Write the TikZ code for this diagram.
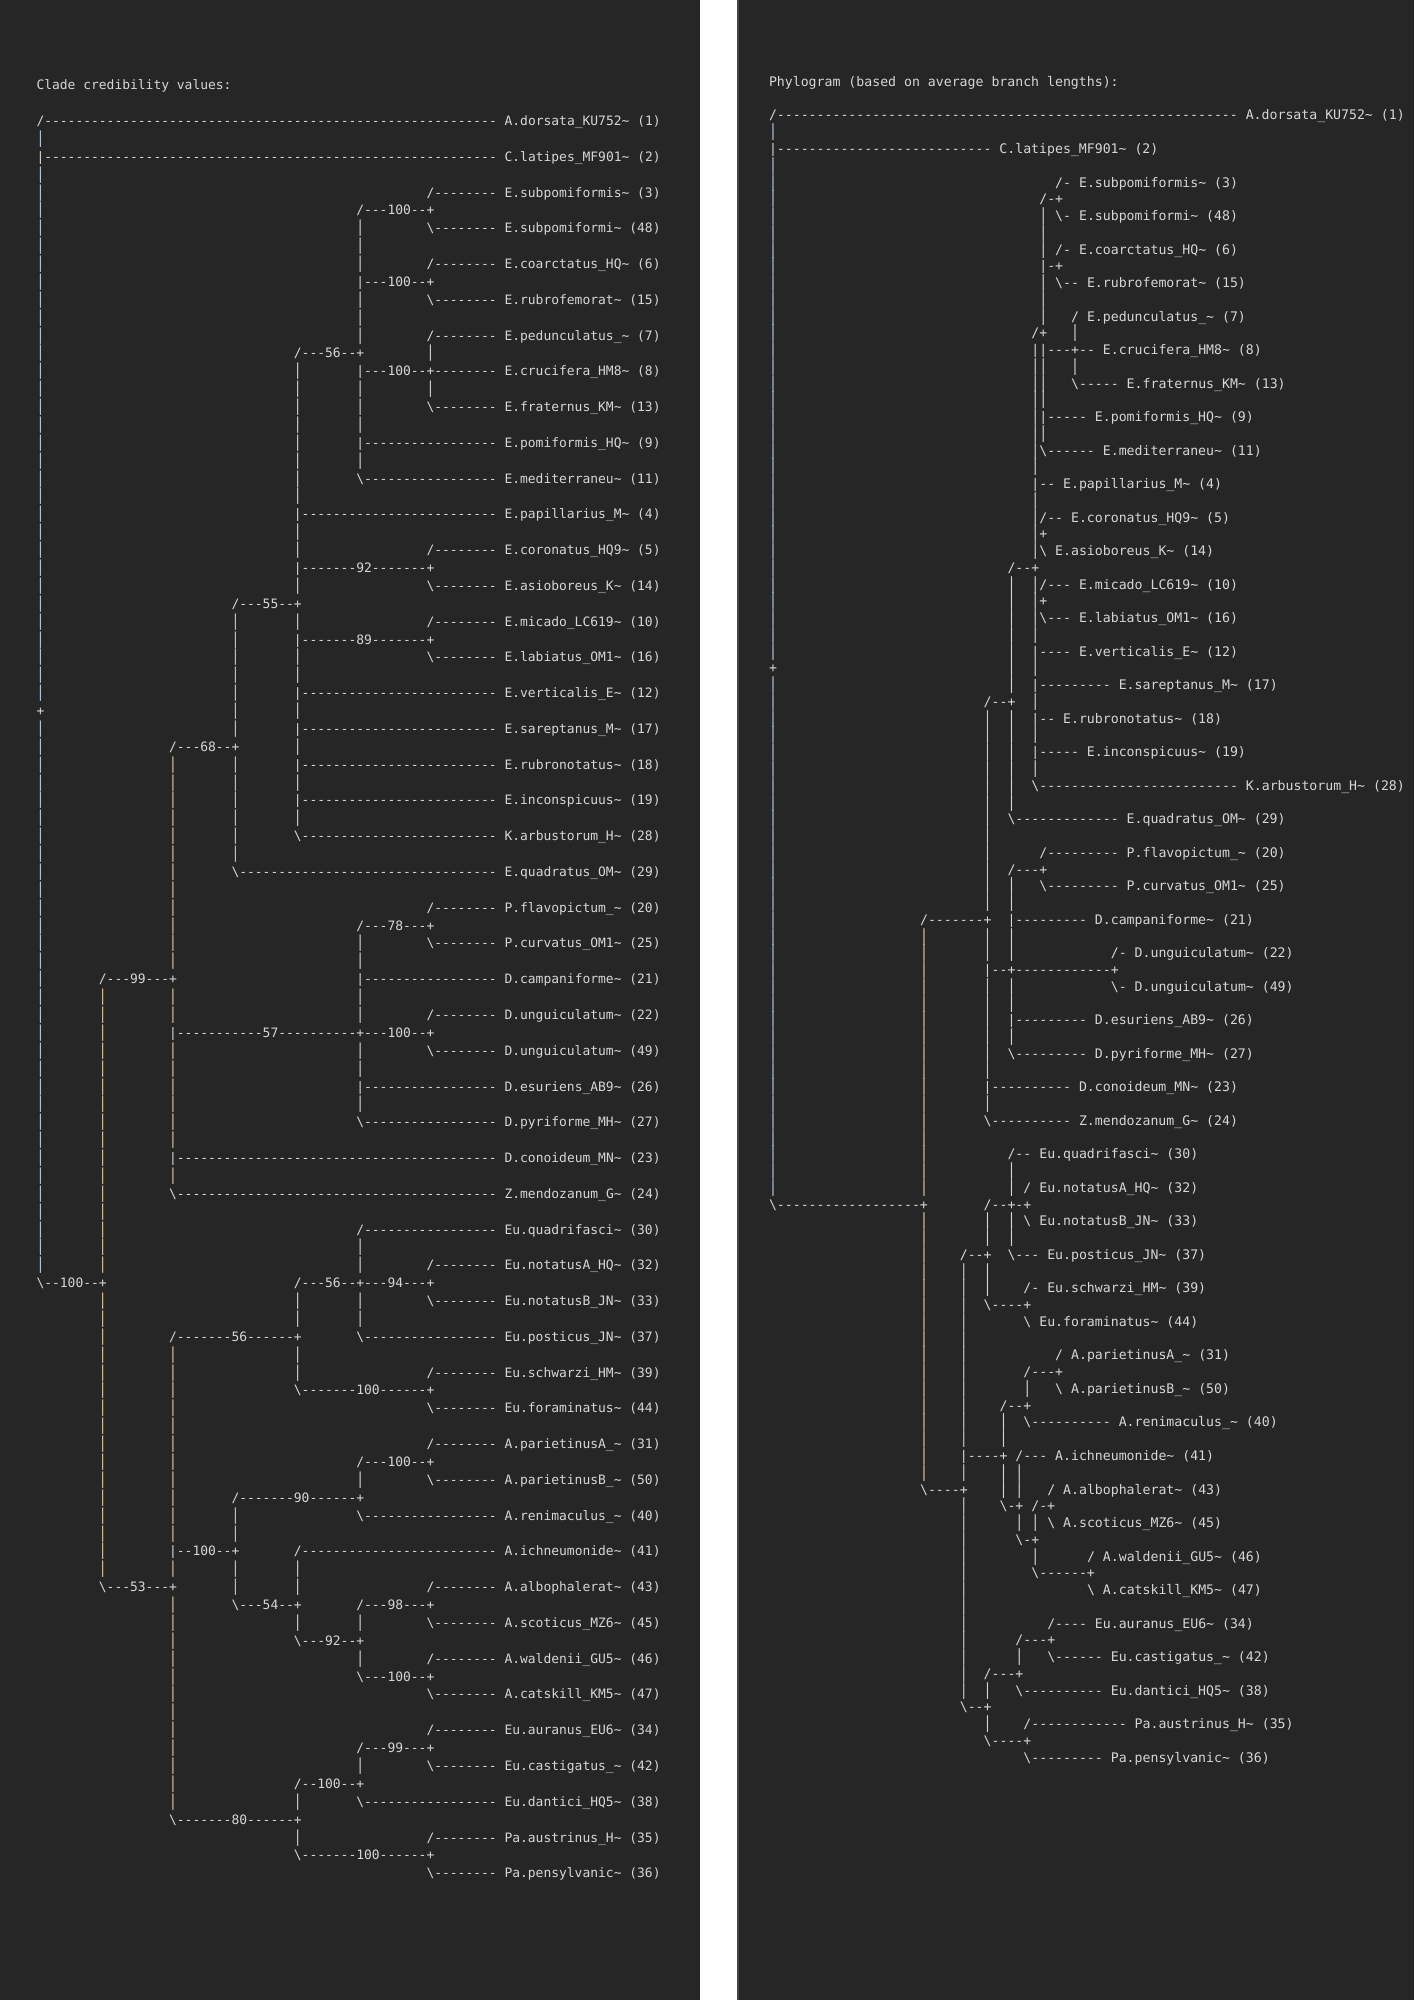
\documentclass[tikz,border=0pt]{standalone}
\usepackage{fontspec}
\setmonofont{DejaVu Sans Mono}
\usepackage{graphicx}
\definecolor{panel}{HTML}{262626}
\definecolor{edge}{HTML}{454545}
\definecolor{ink}{HTML}{D6D6D6}
\definecolor{tintblue}{HTML}{B4CDE8}
\definecolor{tintorange}{HTML}{E4C9A6}
\ExplSyntaxOn
\cs_new:Npn \dashrun #1 { \prg_replicate:nn {#1} {-} }
\ExplSyntaxOff
\newcommand\bs{\textbackslash}
\newcommand\tld{\textasciitilde}
\newcommand\barglyph{\scalebox{1}[1.27]{|}}
% one piece of a tree line at (column,row)
\newcommand\seg[3]{\node[tree] (\pfx#2x#1) at (#1,#2) {#3};}
% branch end: first char, dashes, then the label starting at column #4
\newcommand\leaf[5]{\node[tree] (\pfx#2x#1) at (#1,#2) {#3\dashrun{#4-#1-2} #5};}
% vertical run of bars in one column
\newcommand\vbar[4][tree]{\foreach \row in {#3,...,#4}{\node[#1] (\pfx\row x#2) at (#2,\row) {\barglyph};}}

\begin{document}
\begin{tikzpicture}[x=0.5pt, y=-0.5pt,
  tree/.style={anchor=base west, inner sep=0pt, outer sep=0pt, text=ink, font=\panelfont},
  barblue/.style={tree, text=tintblue},
  barorange/.style={tree, text=tintorange}]
\useasboundingbox (0,0) rectangle (1414,2000);
\fill[panel] (0,0) rectangle (700,2000);
\fill[white] (700,0) rectangle (737,2000);
\fill[panel] (737,0) rectangle (1414,2000);
\fill[edge] (737,0) rectangle (739,2000);

%%%%% clade credibility values %%%%%
\begin{scope}[shift={(36.5,125.5)}, x=3.9pt, y=-8.94pt]
\def\pfx{L}\def\panelfont{\fontsize{6.48pt}{8pt}\selectfont\ttfamily}
\seg{0}{-2}{Clade credibility values:}
\leaf{0}{0}{/}{60}{A.dorsata\_KU752\tld{} (1)}
\vbar[barblue]{0}{1}{1}
\leaf{0}{2}{|}{60}{C.latipes\_MF901\tld{} (2)}
\vbar[barblue]{0}{3}{32}
\seg{0}{33}{+}
\vbar[barblue]{0}{34}{64}
\seg{0}{65}{\bs--100--+}

\leaf{50}{4}{/}{60}{E.subpomiformis\tld{} (3)}
\seg{41}{5}{/---100--+}
\vbar{41}{6}{8}
\leaf{50}{6}{\bs}{60}{E.subpomiformi\tld{} (48)}
\leaf{50}{8}{/}{60}{E.coarctatus\_HQ\tld{} (6)}
\seg{41}{9}{|---100--+}
\vbar{41}{10}{12}
\leaf{50}{10}{\bs}{60}{E.rubrofemorat\tld{} (15)}
\leaf{50}{12}{/}{60}{E.pedunculatus\_\tld{} (7)}
\seg{33}{13}{/---56--+}
\vbar{50}{13}{13}
\vbar{33}{14}{21}
\seg{41}{14}{|---100--}
\leaf{50}{14}{+}{60}{E.crucifera\_HM8\tld{} (8)}
\vbar{41}{15}{17}
\vbar{50}{15}{15}
\leaf{50}{16}{\bs}{60}{E.fraternus\_KM\tld{} (13)}
\leaf{41}{18}{|}{60}{E.pomiformis\_HQ\tld{} (9)}
\vbar{41}{19}{19}
\leaf{41}{20}{\bs}{60}{E.mediterraneu\tld{} (11)}
\leaf{33}{22}{|}{60}{E.papillarius\_M\tld{} (4)}
\vbar{33}{23}{24}
\leaf{50}{24}{/}{60}{E.coronatus\_HQ9\tld{} (5)}
\seg{33}{25}{|-------92-------+}
\vbar{33}{26}{26}
\leaf{50}{26}{\bs}{60}{E.asioboreus\_K\tld{} (14)}
\seg{25}{27}{/---55--+}
\vbar[barblue]{25}{28}{34}
\vbar{33}{28}{28}
\leaf{50}{28}{/}{60}{E.micado\_LC619\tld{} (10)}
\seg{33}{29}{|-------89-------+}
\vbar{33}{30}{31}
\leaf{50}{30}{\bs}{60}{E.labiatus\_OM1\tld{} (16)}
\leaf{33}{32}{|}{60}{E.verticalis\_E\tld{} (12)}
\vbar{33}{33}{33}
\leaf{33}{34}{|}{60}{E.sareptanus\_M\tld{} (17)}
\seg{17}{35}{/---68--+}
\vbar{33}{35}{35}
\vbar[barorange]{17}{36}{47}
\vbar[barblue]{25}{36}{41}
\leaf{33}{36}{|}{60}{E.rubronotatus\tld{} (18)}
\vbar{33}{37}{37}
\leaf{33}{38}{|}{60}{E.inconspicuus\tld{} (19)}
\vbar{33}{39}{39}
\leaf{33}{40}{\bs}{60}{K.arbustorum\_H\tld{} (28)}
\leaf{25}{42}{\bs}{60}{E.quadratus\_OM\tld{} (29)}
\leaf{50}{44}{/}{60}{P.flavopictum\_\tld{} (20)}
\seg{41}{45}{/---78---+}
\vbar{41}{46}{47}
\leaf{50}{46}{\bs}{60}{P.curvatus\_OM1\tld{} (25)}
\seg{8}{48}{/---99---+}
\leaf{41}{48}{|}{60}{D.campaniforme\tld{} (21)}
\vbar[barorange]{8}{49}{64}
\vbar[barorange]{17}{49}{50}
\vbar{41}{49}{50}
\leaf{50}{50}{/}{60}{D.unguiculatum\tld{} (22)}
\seg{17}{51}{|-----------57----------+---100--+}
\vbar[barorange]{17}{52}{57}
\vbar{41}{52}{53}
\leaf{50}{52}{\bs}{60}{D.unguiculatum\tld{} (49)}
\leaf{41}{54}{|}{60}{D.esuriens\_AB9\tld{} (26)}
\vbar{41}{55}{55}
\leaf{41}{56}{\bs}{60}{D.pyriforme\_MH\tld{} (27)}
\leaf{17}{58}{|}{60}{D.conoideum\_MN\tld{} (23)}
\vbar[barorange]{17}{59}{59}
\leaf{17}{60}{\bs}{60}{Z.mendozanum\_G\tld{} (24)}

\leaf{41}{62}{/}{60}{Eu.quadrifasci\tld{} (30)}
\vbar{41}{63}{64}
\leaf{50}{64}{/}{60}{Eu.notatusA\_HQ\tld{} (32)}
\seg{33}{65}{/---56--+---94---+}
\vbar[barorange]{8}{66}{81}
\vbar{33}{66}{67}
\vbar{41}{66}{67}
\leaf{50}{66}{\bs}{60}{Eu.notatusB\_JN\tld{} (33)}
\seg{17}{68}{/-------56------+}
\leaf{41}{68}{\bs}{60}{Eu.posticus\_JN\tld{} (37)}
\vbar[barorange]{17}{69}{79}
\vbar{33}{69}{70}
\leaf{50}{70}{/}{60}{Eu.schwarzi\_HM\tld{} (39)}
\seg{33}{71}{\bs-------100------+}
\leaf{50}{72}{\bs}{60}{Eu.foraminatus\tld{} (44)}
\leaf{50}{74}{/}{60}{A.parietinusA\_\tld{} (31)}
\seg{41}{75}{/---100--+}
\vbar{41}{76}{76}
\leaf{50}{76}{\bs}{60}{A.parietinusB\_\tld{} (50)}
\seg{25}{77}{/-------90------+}
\vbar[barblue]{25}{78}{79}
\leaf{41}{78}{\bs}{60}{A.renimaculus\_\tld{} (40)}
\seg{17}{80}{|--100--+}
\leaf{33}{80}{/}{60}{A.ichneumonide\tld{} (41)}
\vbar[barorange]{17}{81}{81}
\vbar[barblue]{25}{81}{82}
\vbar{33}{81}{82}
\seg{8}{82}{\bs---53---+}
\leaf{50}{82}{/}{60}{A.albophalerat\tld{} (43)}
\vbar[barorange]{17}{83}{94}
\seg{25}{83}{\bs---54--+}
\seg{41}{83}{/---98---+}
\vbar{33}{84}{84}
\vbar{41}{84}{84}
\leaf{50}{84}{\bs}{60}{A.scoticus\_MZ6\tld{} (45)}
\seg{33}{85}{\bs---92--+}
\vbar{41}{86}{86}
\leaf{50}{86}{/}{60}{A.waldenii\_GU5\tld{} (46)}
\seg{41}{87}{\bs---100--+}
\leaf{50}{88}{\bs}{60}{A.catskill\_KM5\tld{} (47)}
\leaf{50}{90}{/}{60}{Eu.auranus\_EU6\tld{} (34)}
\seg{41}{91}{/---99---+}
\vbar{41}{92}{92}
\leaf{50}{92}{\bs}{60}{Eu.castigatus\_\tld{} (42)}
\seg{33}{93}{/--100--+}
\vbar{33}{94}{94}
\leaf{41}{94}{\bs}{60}{Eu.dantici\_HQ5\tld{} (38)}
\seg{17}{95}{\bs-------80------+}
\vbar{33}{96}{96}
\leaf{50}{96}{/}{60}{Pa.austrinus\_H\tld{} (35)}
\seg{33}{97}{\bs-------100------+}
\leaf{50}{98}{\bs}{60}{Pa.pensylvanic\tld{} (36)}
\end{scope}

%%%%% phylogram %%%%%
\begin{scope}[shift={(769,120)}, x=3.975pt, y=-8.378pt]
\def\pfx{R}\def\panelfont{\fontsize{6.6pt}{8pt}\selectfont\ttfamily}
\seg{0}{-2}{Phylogram (based on average branch lengths):}
\leaf{0}{0}{/}{60}{A.dorsata\_KU752\tld{} (1)}
\vbar[barblue]{0}{1}{1}
\leaf{0}{2}{|}{29}{C.latipes\_MF901\tld{} (2)}
\vbar[barblue]{0}{3}{32}
\seg{0}{33}{+}
\vbar[barblue]{0}{34}{64}
\seg{0}{65}{\bs------------------+}

\leaf{36}{4}{/}{39}{E.subpomiformis\tld{} (3)}
\seg{34}{5}{/-+}
\vbar{34}{6}{8}
\leaf{36}{6}{\bs}{39}{E.subpomiformi\tld{} (48)}
\leaf{36}{8}{/}{39}{E.coarctatus\_HQ\tld{} (6)}
\seg{34}{9}{|-+}
\vbar{34}{10}{12}
\leaf{36}{10}{\bs}{40}{E.rubrofemorat\tld{} (15)}
\leaf{38}{12}{/}{40}{E.pedunculatus\_\tld{} (7)}
\seg{33}{13}{/+}
\vbar{38}{13}{13}
\seg{33}{14}{||---}
\leaf{38}{14}{+}{42}{E.crucifera\_HM8\tld{} (8)}
\vbar{33}{15}{21}
\vbar{34}{15}{17}
\vbar{38}{15}{15}
\leaf{38}{16}{\bs}{45}{E.fraternus\_KM\tld{} (13)}
\leaf{34}{18}{|}{41}{E.pomiformis\_HQ\tld{} (9)}
\vbar{34}{19}{19}
\leaf{34}{20}{\bs}{42}{E.mediterraneu\tld{} (11)}
\leaf{33}{22}{|}{37}{E.papillarius\_M\tld{} (4)}
\vbar{33}{23}{26}
\leaf{34}{24}{/}{38}{E.coronatus\_HQ9\tld{} (5)}
\seg{34}{25}{+}
\leaf{34}{26}{\bs}{36}{E.asioboreus\_K\tld{} (14)}
\seg{30}{27}{/--+}
\vbar{30}{28}{34}
\vbar{33}{28}{31}
\leaf{34}{28}{/}{39}{E.micado\_LC619\tld{} (10)}
\seg{34}{29}{+}
\leaf{34}{30}{\bs}{39}{E.labiatus\_OM1\tld{} (16)}
\leaf{33}{32}{|}{39}{E.verticalis\_E\tld{} (12)}
\vbar{33}{33}{33}
\leaf{33}{34}{|}{44}{E.sareptanus\_M\tld{} (17)}
\seg{27}{35}{/--+}
\vbar{33}{35}{35}
\vbar[barorange]{27}{36}{47}
\vbar{30}{36}{41}
\leaf{33}{36}{|}{37}{E.rubronotatus\tld{} (18)}
\vbar{33}{37}{37}
\leaf{33}{38}{|}{40}{E.inconspicuus\tld{} (19)}
\vbar{33}{39}{39}
\leaf{33}{40}{\bs}{60}{K.arbustorum\_H\tld{} (28)}
\leaf{30}{42}{\bs}{45}{E.quadratus\_OM\tld{} (29)}
\leaf{34}{44}{/}{45}{P.flavopictum\_\tld{} (20)}
\seg{30}{45}{/---+}
\vbar{30}{46}{47}
\leaf{34}{46}{\bs}{45}{P.curvatus\_OM1\tld{} (25)}
\seg{19}{48}{/-------+}
\leaf{30}{48}{|}{41}{D.campaniforme\tld{} (21)}
\vbar[barorange]{19}{49}{64}
\vbar[barorange]{27}{49}{50}
\vbar{30}{49}{50}
\leaf{43}{50}{/}{46}{D.unguiculatum\tld{} (22)}
\seg{27}{51}{|--+------------+}
\vbar[barorange]{27}{52}{57}
\vbar{30}{52}{53}
\leaf{43}{52}{\bs}{46}{D.unguiculatum\tld{} (49)}
\leaf{30}{54}{|}{41}{D.esuriens\_AB9\tld{} (26)}
\vbar{30}{55}{55}
\leaf{30}{56}{\bs}{41}{D.pyriforme\_MH\tld{} (27)}
\leaf{27}{58}{|}{39}{D.conoideum\_MN\tld{} (23)}
\vbar[barorange]{27}{59}{59}
\leaf{27}{60}{\bs}{39}{Z.mendozanum\_G\tld{} (24)}

\leaf{30}{62}{/}{34}{Eu.quadrifasci\tld{} (30)}
\vbar{30}{63}{64}
\leaf{32}{64}{/}{34}{Eu.notatusA\_HQ\tld{} (32)}
\seg{27}{65}{/--+-+}
\vbar[barorange]{19}{66}{81}
\vbar{27}{66}{67}
\vbar{30}{66}{67}
\leaf{32}{66}{\bs}{34}{Eu.notatusB\_JN\tld{} (33)}
\seg{24}{68}{/--+}
\leaf{30}{68}{\bs}{35}{Eu.posticus\_JN\tld{} (37)}
\vbar[barblue]{24}{69}{79}
\vbar{27}{69}{70}
\leaf{32}{70}{/}{35}{Eu.schwarzi\_HM\tld{} (39)}
\seg{27}{71}{\bs----+}
\leaf{32}{72}{\bs}{34}{Eu.foraminatus\tld{} (44)}
\leaf{36}{74}{/}{38}{A.parietinusA\_\tld{} (31)}
\seg{32}{75}{/---+}
\vbar{32}{76}{76}
\leaf{36}{76}{\bs}{38}{A.parietinusB\_\tld{} (50)}
\seg{29}{77}{/--+}
\vbar{29}{78}{79}
\leaf{32}{78}{\bs}{44}{A.renimaculus\_\tld{} (40)}
\seg{24}{80}{|----+}
\leaf{31}{80}{/}{36}{A.ichneumonide\tld{} (41)}
\vbar[barblue]{24}{81}{81}
\vbar{29}{81}{82}
\vbar{31}{81}{82}
\seg{19}{82}{\bs----+}
\leaf{35}{82}{/}{37}{A.albophalerat\tld{} (43)}
\vbar[barblue]{24}{83}{94}
\seg{29}{83}{\bs-+ /-+}
\vbar{31}{84}{84}
\vbar{33}{84}{84}
\leaf{35}{84}{\bs}{37}{A.scoticus\_MZ6\tld{} (45)}
\seg{31}{85}{\bs-+}
\vbar{33}{86}{86}
\leaf{40}{86}{/}{42}{A.waldenii\_GU5\tld{} (46)}
\seg{33}{87}{\bs------+}
\leaf{40}{88}{\bs}{42}{A.catskill\_KM5\tld{} (47)}
\leaf{35}{90}{/}{41}{Eu.auranus\_EU6\tld{} (34)}
\seg{31}{91}{/---+}
\vbar{31}{92}{92}
\leaf{35}{92}{\bs}{43}{Eu.castigatus\_\tld{} (42)}
\seg{27}{93}{/---+}
\vbar{27}{94}{94}
\leaf{31}{94}{\bs}{43}{Eu.dantici\_HQ5\tld{} (38)}
\seg{24}{95}{\bs--+}
\vbar{27}{96}{96}
\leaf{32}{96}{/}{46}{Pa.austrinus\_H\tld{} (35)}
\seg{27}{97}{\bs----+}
\leaf{32}{98}{\bs}{43}{Pa.pensylvanic\tld{} (36)}
\end{scope}
\end{tikzpicture}
\end{document}
